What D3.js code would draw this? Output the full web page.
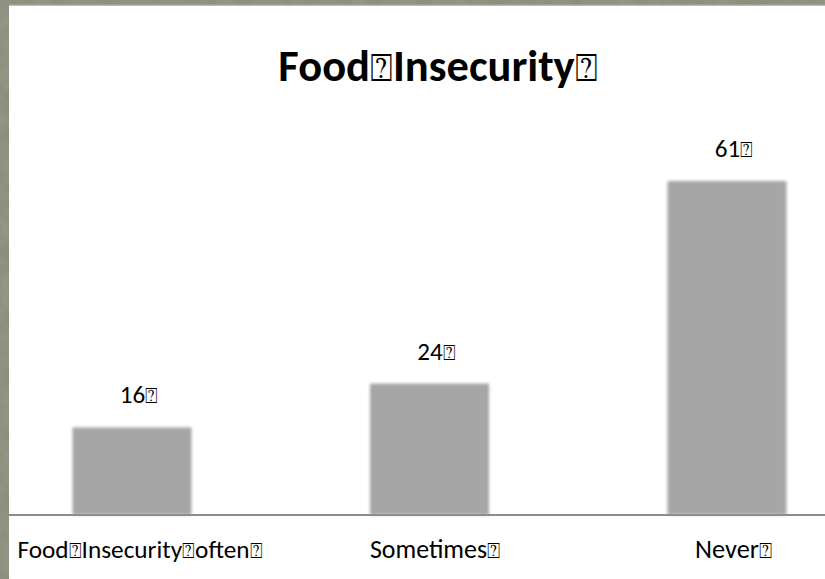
<!DOCTYPE html>
<html>
<head>
<meta charset="utf-8">
<script src="https://cdn.jsdelivr.net/npm/d3@7"></script>
<style>
  html, body { margin: 0; padding: 0; background: #fff; }
  svg { display: block; }
</style>
</head>
<body>
<svg id="chart" width="825" height="579"></svg>
<script>
// Survey answers and their shares (percent)
const categories = ["Food\u2370Insecurity\u2370often\u2370", "Sometimes\u2370", "Never\u2370"];
const values = [16, 24, 61];
const valueLabels = ["16\u2370", "24\u2370", "61\u2370"];
const title = "Food\u2370Insecurity\u2370";

const W = 825, H = 579;
const svg = d3.select("#chart");

// slide frame along the top and left edges, with a faint grain
const defs = svg.append("defs");
const tex = defs.append("filter").attr("id", "grain").attr("x", 0).attr("y", 0).attr("width", 1).attr("height", 1);
tex.append("feTurbulence").attr("type", "fractalNoise").attr("baseFrequency", 0.06).attr("numOctaves", 2).attr("seed", 3).attr("result", "n");
tex.append("feColorMatrix").attr("in", "n").attr("type", "matrix")
  .attr("values", "0 0 0 0 0.45  0 0 0 0 0.47  0 0 0 0 0.40  0 0 0 0.35 0").attr("result", "c");
tex.append("feComposite").attr("in", "c").attr("in2", "SourceGraphic").attr("operator", "in");

const soft = defs.append("filter").attr("id", "soft").attr("x", "-10%").attr("y", "-10%").attr("width", "120%").attr("height", "120%");
soft.append("feGaussianBlur").attr("stdDeviation", 1.6);

svg.append("rect").attr("x", 0).attr("y", 0).attr("width", W).attr("height", H).attr("fill", "#878a78");
svg.append("rect").attr("x", 0).attr("y", 0).attr("width", W).attr("height", H).attr("fill", "#878a78").attr("filter", "url(#grain)");

// white chart area
svg.append("rect").attr("x", 9).attr("y", 5).attr("width", W - 9).attr("height", H - 5).attr("fill", "#ffffff");
svg.append("line").attr("x1", 9).attr("x2", W).attr("y1", 5).attr("y2", 5).attr("stroke", "#a3a39c").attr("stroke-width", 1.5);

const baseY = 515;
const x = d3.scalePoint().domain(categories).range([132, 727]);
const barW = 119;
const y = d3.scaleLinear().domain([0, 61]).range([baseY, 181]);

const fontFam = "Calibri, Carlito, Lato, 'DejaVu Sans', sans-serif";

// bars
svg.append("g").attr("filter", "url(#soft)")
  .selectAll("rect").data(values).join("rect")
  .attr("x", (d, i) => x(categories[i]) - barW / 2)
  .attr("y", d => y(d))
  .attr("width", barW)
  .attr("height", d => baseY - y(d))
  .attr("fill", "#a6a6a6");

// baseline axis
svg.append("line").attr("x1", 9).attr("x2", W).attr("y1", baseY).attr("y2", baseY)
  .attr("stroke", "#8c8c8c").attr("stroke-width", 2);

// write a string into a text element, drawing the boxed glyphs a little smaller
function setText(sel, str) {
  sel.text(null);
  str.split(/(\u2370)/).filter(s => s.length).forEach(part => {
    const ts = sel.append("tspan").text(part);
    if (part === "\u2370") ts.attr("font-family", "'DejaVu Sans', sans-serif").attr("font-size", "0.85em").attr("font-weight", "normal");
  });
}

// fit a text element to a given width by adjusting the font size
function fitWidth(sel, target) {
  const node = sel.node();
  const fs = parseFloat(sel.attr("font-size"));
  const w = node.getComputedTextLength();
  if (w > 0) sel.attr("font-size", (fs * target / w).toFixed(2));
}

// value labels
svg.append("g").selectAll("text").data(values).join("text")
  .attr("x", (d, i) => x(categories[i]) + 7)
  .attr("y", d => y(d) - 24)
  .attr("text-anchor", "middle")
  .attr("font-family", fontFam)
  .attr("font-size", 20)
  .attr("fill", "#000")
  .each(function (d, i) { const s = d3.select(this); setText(s, valueLabels[i]); fitWidth(s, 38); });

// category labels
const catTargets = [244, 130, 77];
const catX = [140, 435, 733.5];
svg.append("g").selectAll("text").data(categories).join("text")
  .attr("x", (d, i) => catX[i])
  .attr("y", 558)
  .attr("text-anchor", "middle")
  .attr("font-family", fontFam)
  .attr("font-size", 20)
  .attr("fill", "#000")
  .each(function (d, i) { const s = d3.select(this); setText(s, d); fitWidth(s, catTargets[i]); });

// title
const t = svg.append("text")
  .attr("x", 438)
  .attr("y", 81)
  .attr("text-anchor", "middle")
  .attr("font-family", fontFam)
  .attr("font-weight", "bold")
  .attr("font-size", 40)
  .attr("fill", "#000");
setText(t, title);
fitWidth(t, 318);
</script>
</body>
</html>
